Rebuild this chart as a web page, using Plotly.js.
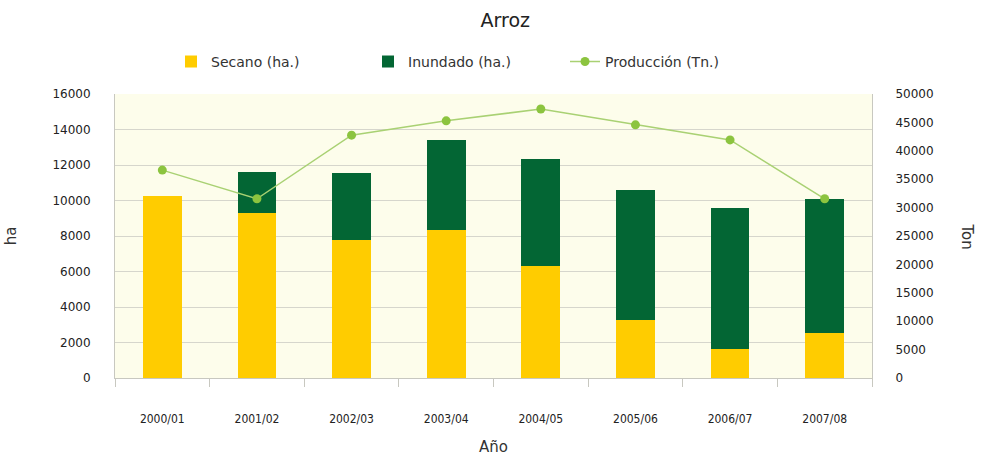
<!DOCTYPE html>
<html>
<head>
<meta charset="utf-8">
<script src="https://cdn.plot.ly/plotly-3.0.1.min.js"></script>
<style>html,body{margin:0;padding:0;background:#fff;}#chart{width:983px;height:456px;}</style>
</head>
<body>
<div id="chart"></div>
<script>
const years = ['2000/01','2001/02','2002/03','2003/04','2004/05','2005/06','2006/07','2007/08'];
const secano = [10250, 9300, 7770, 8330, 6290, 3270, 1640, 2550];
const inundado = [0, 2320, 3760, 5070, 6050, 7300, 7940, 7510];
const produccion = [36600, 31550, 42750, 45280, 47350, 44570, 41920, 31550];

const tickFont = {family: 'DejaVu Sans', size: 12, color: '#222'};
const narrowFont = {family: 'Liberation Sans Narrow, DejaVu Sans Condensed, sans-serif', size: 12, color: '#222'};

const data = [
  {type: 'bar', name: 'Secano (ha.)', x: years, y: secano, marker: {color: '#FFCC00'}, yaxis: 'y'},
  {type: 'bar', name: 'Inundado (ha.)', x: years, y: inundado, marker: {color: '#036634'}, yaxis: 'y'},
  {type: 'scatter', mode: 'lines+markers', name: 'Producción (Tn.)', x: years, y: produccion, yaxis: 'y2',
   line: {color: '#a9d173', width: 1.5}, marker: {color: '#8cc43f', size: 9}}
];

const layout = {
  width: 983, height: 456,
  margin: {l: 115, r: 111, t: 94, b: 78},
  paper_bgcolor: '#ffffff',
  plot_bgcolor: '#fdfdeb',
  barmode: 'stack',
  bargap: 0.59,
  showlegend: true,
  title: {text: 'Arroz', x: 0.514, xanchor: 'center', y: 0.956, yanchor: 'middle',
          font: {family: 'DejaVu Sans', size: 19, color: '#222'}},
  legend: {orientation: 'h', x: 0.074, xanchor: 'left', y: 1.113, yanchor: 'middle',
           font: {family: 'DejaVu Sans', size: 14, color: '#333'},
           entrywidth: 152, entrywidthmode: 'pixels', traceorder: 'normal'},
  xaxis: {
    type: 'category',
    tickfont: narrowFont,
    ticks: 'outside', tickson: 'boundaries', ticklen: 8, tickcolor: '#c8c8c0',
    showline: true, linecolor: '#c8c8c0', linewidth: 1,
    ticklabelstandoff: 30,
    title: {text: 'Año', font: {family: 'DejaVu Sans', size: 15, color: '#333'}, standoff: 16}
  },
  yaxis: {
    range: [0, 16000], dtick: 2000, tickformat: 'd',
    tickfont: tickFont,
    showgrid: true, gridcolor: '#d6d6cc', gridwidth: 1,
    zeroline: false,
    showline: true, linecolor: '#c8c8c0',
    ticklabelstandoff: 21,
    title: {text: 'ha', font: {family: 'DejaVu Sans', size: 15, color: '#333'}, standoff: 32}
  },
  yaxis2: {
    overlaying: 'y', side: 'right',
    range: [0, 50000], dtick: 5000, tickformat: 'd',
    tickfont: tickFont,
    showgrid: false, zeroline: false,
    showline: true, linecolor: '#c8c8c0',
    ticklabelstandoff: 20
  },
  annotations: [
    {text: 'Ton', xref: 'paper', yref: 'paper', x: 1.125, y: 0.5, xanchor: 'center', yanchor: 'middle',
     textangle: 90, showarrow: false, font: {family: 'DejaVu Sans', size: 15, color: '#333'}}
  ]
};

Plotly.newPlot('chart', data, layout, {displayModeBar: false, staticPlot: true});
</script>
</body>
</html>
